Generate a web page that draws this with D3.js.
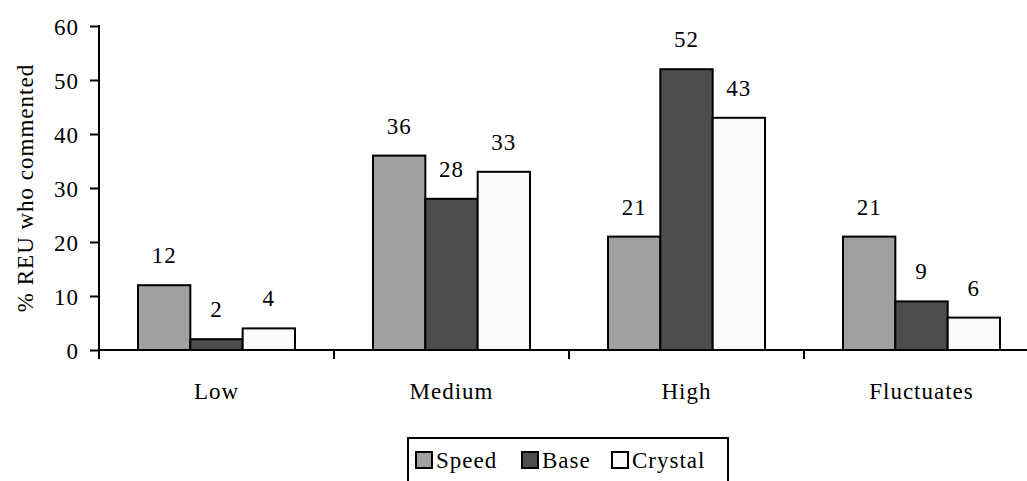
<!DOCTYPE html>
<html>
<head>
<meta charset="utf-8">
<script src="https://cdn.jsdelivr.net/npm/d3@7"></script>
<style>
  svg text { font-family: "Liberation Serif", "Times New Roman", serif !important; font-size: 23px; letter-spacing: 1px; fill: #000; }
</style>
</head>
<body style="margin:0">
<svg width="1027" height="481"></svg>
<script>
var categories = ["Low", "Medium", "High", "Fluctuates"];
var series = ["Speed", "Base", "Crystal"];
var speed = [12, 36, 21, 21];
var base = [2, 28, 52, 9];
var crystal = [4, 33, 43, 6];
var yTicks = [0, 10, 20, 30, 40, 50, 60];
var colors = ["#a0a0a0", "#4d4d4d", "#fafafa"];

var values = [speed, base, crystal];

var svg = d3.select("svg"),
    left = 99,
    bottom = 350;

var x0 = d3.scaleBand().domain(categories).range([left, left + 4 * 235]);
var x1 = d3.scaleBand().domain(series).range([39, 196]);
var y = d3.scaleLinear().domain([0, 60]).range([bottom, 26]);
var color = d3.scaleOrdinal().domain(series).range(colors);

// bars
var groups = svg.append("g").selectAll("g")
    .data(categories)
    .join("g")
    .attr("transform", d => "translate(" + x0(d) + ",0)");

groups.selectAll("rect")
    .data((c, i) => series.map((s, j) => ({ s: s, v: values[j][i] })))
    .join("rect")
    .attr("x", d => x1(d.s))
    .attr("y", d => y(d.v))
    .attr("width", x1.bandwidth())
    .attr("height", d => bottom - y(d.v))
    .attr("fill", d => color(d.s))
    .attr("stroke", "#000")
    .attr("stroke-width", 2);

groups.selectAll("text")
    .data((c, i) => series.map((s, j) => ({ s: s, v: values[j][i] })))
    .join("text")
    .attr("x", d => x1(d.s) + x1.bandwidth() / 2)
    .attr("y", d => y(d.v) - 22)
    .attr("text-anchor", "middle")
    .text(d => d.v);

// y axis, ticks only
var yAxis = svg.append("g")
    .attr("transform", "translate(" + left + ",0)")
    .call(d3.axisLeft(y).tickValues(yTicks).tickSize(9).tickPadding(11).tickSizeOuter(0));
yAxis.select(".domain").remove();
yAxis.selectAll("line").attr("stroke", "#000").attr("stroke-width", 2);
yAxis.selectAll("text").attr("dy", "0.35em");
svg.append("line")
    .attr("x1", left).attr("x2", left)
    .attr("y1", y(60) - 1).attr("y2", bottom + 9)
    .attr("stroke", "#000").attr("stroke-width", 2);

// x axis
svg.append("line")
    .attr("x1", left).attr("x2", 1027)
    .attr("y1", bottom).attr("y2", bottom)
    .attr("stroke", "#000").attr("stroke-width", 2);
svg.append("g").selectAll("line")
    .data(categories.slice(1))
    .join("line")
    .attr("x1", d => x0(d)).attr("x2", d => x0(d))
    .attr("y1", bottom).attr("y2", bottom + 9)
    .attr("stroke", "#000").attr("stroke-width", 2);
svg.append("g").selectAll("text")
    .data(categories)
    .join("text")
    .attr("x", d => x0(d) + x0.bandwidth() / 2)
    .attr("y", 399)
    .attr("text-anchor", "middle")
    .text(d => d);

// y label
svg.append("text")
    .attr("transform", "translate(33,188) rotate(-90)")
    .attr("text-anchor", "middle")
    .text("% REU who commented");

// legend
var legend = svg.append("g");
legend.append("rect")
    .attr("x", 408).attr("y", 438)
    .attr("width", 320).attr("height", 60)
    .attr("fill", "none").attr("stroke", "#000").attr("stroke-width", 2);
var legX = [416, 522, 612];
var items = legend.selectAll("g")
    .data(series)
    .join("g")
    .attr("transform", (d, i) => "translate(" + legX[i] + ",452)");
items.append("rect")
    .attr("width", 16).attr("height", 16)
    .attr("fill", d => color(d))
    .attr("stroke", "#000").attr("stroke-width", 2);
items.append("text")
    .attr("x", 20).attr("y", 16)
    .text(d => d);
</script>
</body>
</html>
